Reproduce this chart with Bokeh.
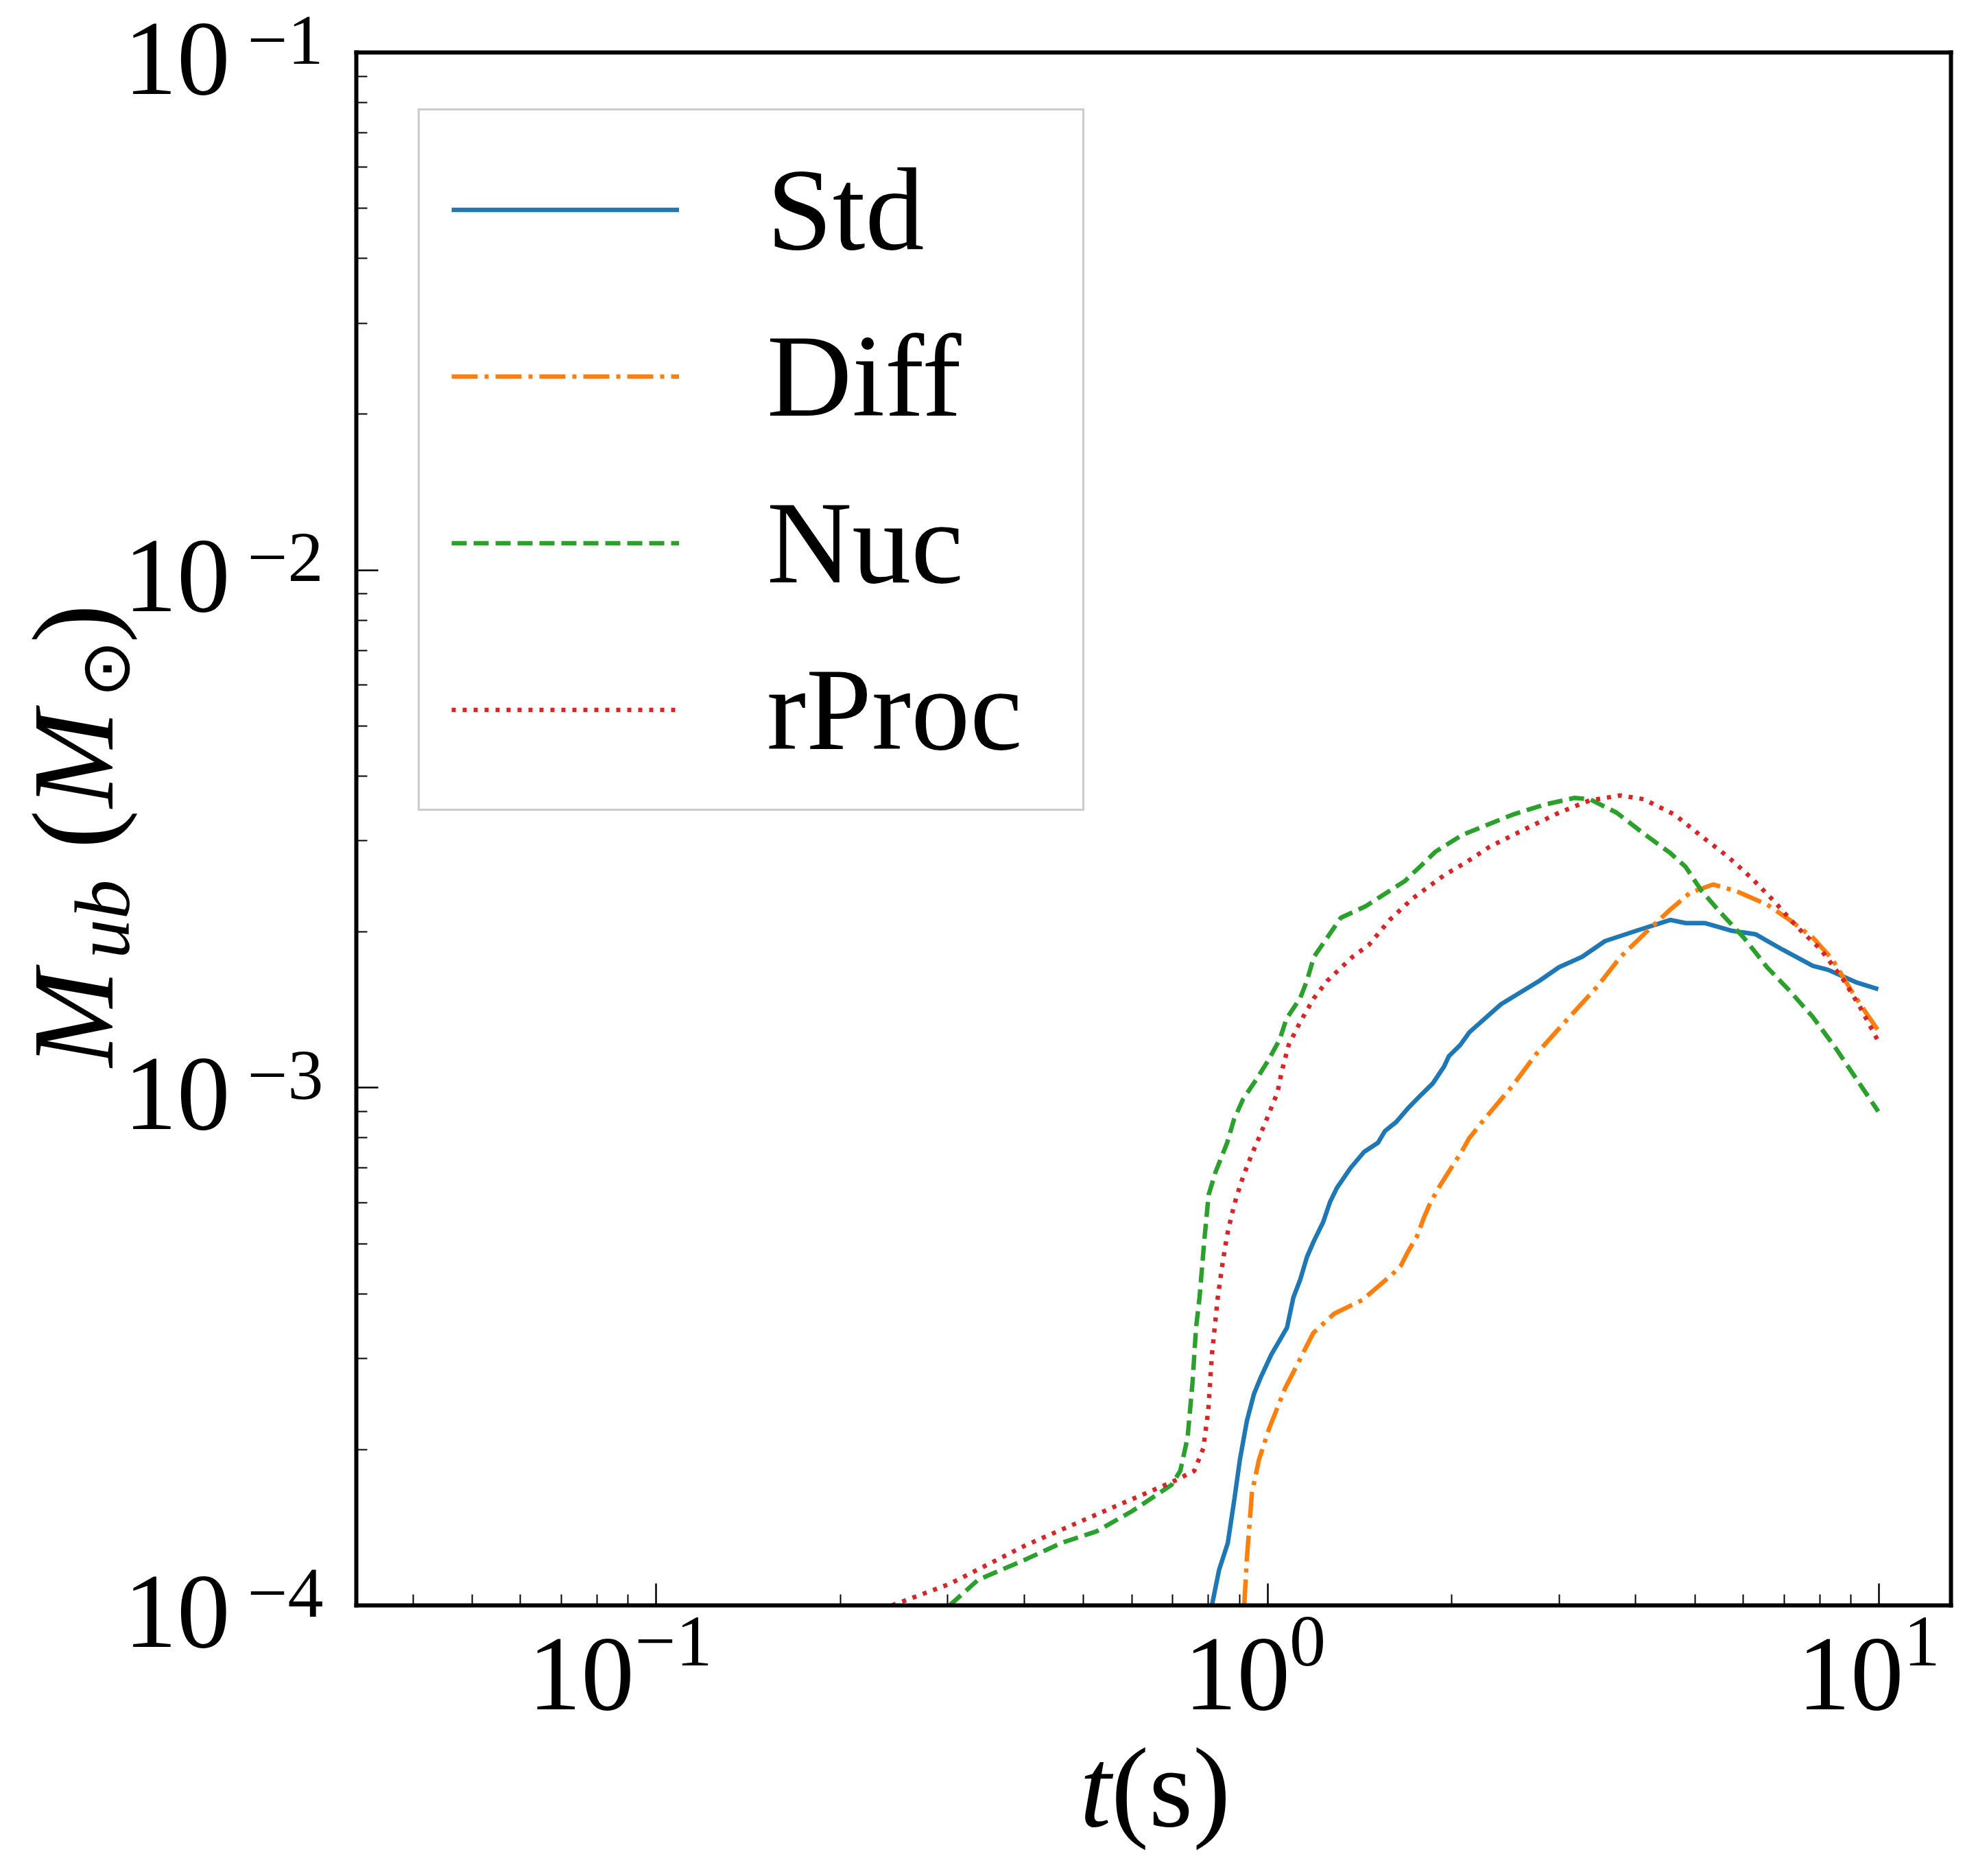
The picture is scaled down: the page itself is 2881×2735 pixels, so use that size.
import numpy as np
from bokeh.plotting import figure
from bokeh.models import (Range1d, Legend, LegendItem, Label, CustomJSTickFormatter,
                          FixedTicker, LogAxis, LogScale)
from bokeh.embed import file_html
from bokeh.resources import INLINE

# ---------------- data ----------------
series_names = ["Std", "Diff", "Nuc", "rProc"]

std_t = [0.811, 0.833, 0.861, 0.883, 0.901, 0.925, 0.950, 0.975, 1.014, 1.076,
         1.102, 1.131, 1.160, 1.191, 1.233, 1.265, 1.298, 1.367, 1.439, 1.516,
         1.555, 1.624, 1.696, 1.785, 1.864, 1.945, 1.979, 2.067, 2.139, 2.410,
         2.786, 2.999, 3.269, 3.565, 4.009, 4.560, 4.831, 5.200, 5.754, 6.281,
         6.950, 7.798, 8.260, 9.162, 9.977]
std_m = [1.00e-4, 1.17e-4, 1.32e-4, 1.61e-4, 1.91e-4, 2.27e-4, 2.56e-4, 2.76e-4, 3.05e-4, 3.44e-4,
         3.93e-4, 4.26e-4, 4.71e-4, 5.06e-4, 5.50e-4, 6.01e-4, 6.40e-4, 7.00e-4, 7.52e-4, 7.83e-4,
         8.24e-4, 8.59e-4, 9.12e-4, 9.70e-4, 1.02e-3, 1.10e-3, 1.15e-3, 1.21e-3, 1.28e-3, 1.45e-3,
         1.61e-3, 1.71e-3, 1.79e-3, 1.92e-3, 2.01e-3, 2.11e-3, 2.08e-3, 2.08e-3, 2.01e-3, 1.98e-3,
         1.85e-3, 1.72e-3, 1.69e-3, 1.60e-3, 1.55e-3]

diff_t = [0.916, 0.925, 0.943, 0.968, 1.008, 1.069, 1.127, 1.188, 1.285, 1.429,
          1.516, 1.596, 1.652, 1.695, 1.755, 1.801, 1.848, 1.913, 1.997, 2.067,
          2.139, 2.244, 2.518, 2.748, 3.083, 3.465, 3.780, 4.183, 4.560, 4.909,
          5.353, 5.834, 6.561, 7.145, 7.798, 8.395, 9.016, 9.550, 9.977]
diff_m = [1.00e-4, 1.23e-4, 1.65e-4, 1.91e-4, 2.21e-4, 2.63e-4, 2.97e-4, 3.36e-4, 3.66e-4, 3.89e-4,
          4.13e-4, 4.35e-4, 4.53e-4, 4.81e-4, 5.16e-4, 5.60e-4, 6.01e-4, 6.46e-4, 7.00e-4, 7.45e-4,
          8.00e-4, 8.59e-4, 1.01e-3, 1.16e-3, 1.35e-3, 1.57e-3, 1.79e-3, 2.01e-3, 2.21e-3, 2.38e-3,
          2.47e-3, 2.40e-3, 2.26e-3, 2.11e-3, 1.95e-3, 1.77e-3, 1.54e-3, 1.39e-3, 1.29e-3]

nuc_t = [0.302, 0.336, 0.404, 0.460, 0.525, 0.600, 0.697, 0.720, 0.740, 0.754,
         0.764, 0.774, 0.788, 0.801, 0.822, 0.859, 0.881, 0.912, 0.960, 1.003,
         1.047, 1.074, 1.131, 1.160, 1.191, 1.318, 1.445, 1.679, 1.884, 2.084,
         2.518, 2.829, 3.177, 3.365, 3.724, 4.121, 4.560, 4.831, 5.129, 5.508,
         6.012, 6.561, 7.145, 7.798, 8.511, 9.290, 9.977]
nuc_m = [1.00e-4, 1.12e-4, 1.23e-4, 1.32e-4, 1.39e-4, 1.52e-4, 1.71e-4, 1.82e-4, 2.11e-4, 2.70e-4,
         3.44e-4, 3.93e-4, 5.06e-4, 6.21e-4, 6.87e-4, 7.83e-4, 8.67e-4, 9.51e-4, 1.04e-3, 1.13e-3,
         1.24e-3, 1.36e-3, 1.49e-3, 1.61e-3, 1.79e-3, 2.13e-3, 2.24e-3, 2.51e-3, 2.86e-3, 3.08e-3,
         3.37e-3, 3.52e-3, 3.63e-3, 3.61e-3, 3.40e-3, 3.10e-3, 2.84e-3, 2.67e-3, 2.40e-3, 2.18e-3,
         1.95e-3, 1.71e-3, 1.54e-3, 1.37e-3, 1.19e-3, 1.02e-3, 9.0e-4]

rproc_t = [0.243, 0.302, 0.404, 0.561, 0.697, 0.759, 0.785, 0.800, 0.811, 0.829,
           0.844, 0.858, 0.873, 0.889, 0.912, 0.940, 0.968, 1.003, 1.038, 1.056,
           1.083, 1.131, 1.191, 1.253, 1.377, 1.466, 1.584, 1.726, 1.941, 2.116,
           2.307, 2.667, 2.999, 3.365, 3.776, 4.121, 4.634, 5.129, 5.675, 6.194,
           6.745, 7.362, 8.035, 8.770, 9.290, 9.977]
rproc_m = [1.00e-4, 1.10e-4, 1.31e-4, 1.55e-4, 1.73e-4, 1.82e-4, 2.01e-4, 2.38e-4, 3.05e-4, 3.93e-4,
           4.57e-4, 5.16e-4, 5.66e-4, 6.14e-4, 6.73e-4, 7.38e-4, 8.00e-4, 8.85e-4, 9.79e-4, 1.08e-3,
           1.21e-3, 1.34e-3, 1.49e-3, 1.61e-3, 1.79e-3, 1.89e-3, 2.11e-3, 2.32e-3, 2.57e-3, 2.73e-3,
           2.92e-3, 3.18e-3, 3.40e-3, 3.59e-3, 3.67e-3, 3.61e-3, 3.37e-3, 3.06e-3, 2.79e-3, 2.54e-3,
           2.29e-3, 2.04e-3, 1.85e-3, 1.61e-3, 1.44e-3, 1.23e-3]

x_major_ticks = [0.1, 1.0, 10.0]
x_minor_ticks = [0.04, 0.05, 0.06, 0.07, 0.08, 0.09,
                 0.2, 0.3, 0.4, 0.5, 0.6, 0.7, 0.8, 0.9,
                 2, 3, 4, 5, 6, 7, 8, 9]
y_major_ticks = [1e-4, 1e-3, 1e-2, 1e-1]
y_minor_ticks = [2e-4, 3e-4, 4e-4, 5e-4, 6e-4, 7e-4, 8e-4, 9e-4,
                 2e-3, 3e-3, 4e-3, 5e-3, 6e-3, 7e-3, 8e-3, 9e-3,
                 2e-2, 3e-2, 4e-2, 5e-2, 6e-2, 7e-2, 8e-2, 9e-2]

x_label_italic = "t"
x_label_rest = "(s)"

# ---------------- layout / styling ----------------
SERIF = "Liberation Serif"
colors = ["#1f77b4", "#ff7f0e", "#2ca02c", "#d62728"]
dashes = ["solid", "38 10 6 10", "22 10", "6 10"]

X0, X1 = 0.03232, 13.12          # visible plot box, x
Y0, Y1 = 1e-4, 1e-1              # visible plot box, y
W, H = 2864, 2718                # canvas
ML, MR, MT, MB = 519, 20, 76, 378  # margins around the plot box

kx = (W - ML - MR) / (np.log10(X1) - np.log10(X0))
ky = (H - MT - MB) / (np.log10(Y1) - np.log10(Y0))
xr = Range1d(10 ** (np.log10(X0) - ML / kx), 10 ** (np.log10(X1) + MR / kx))
yr = Range1d(10 ** (np.log10(Y0) - MB / ky), 10 ** (np.log10(Y1) + MT / ky))

p = figure(width=W, height=H, x_range=xr, y_range=yr,
           x_axis_location=None, y_axis_location=None,
           output_backend="svg", toolbar_location=None,
           min_border_left=0, min_border_right=0, min_border_top=0, min_border_bottom=0)
p.x_scale = LogScale()
p.y_scale = LogScale()
p.background_fill_color = "white"
p.border_fill_color = "white"
p.outline_line_color = None
p.xgrid.visible = False
p.ygrid.visible = False


def make_axis(ticks, minor, fixed, bounds, with_ticks):
    ax = LogAxis(fixed_location=fixed, bounds=bounds,
                 ticker=FixedTicker(ticks=ticks, minor_ticks=minor),
                 formatter=CustomJSTickFormatter(code="return ''"),
                 axis_line_width=6, axis_line_color="black", axis_line_cap="square",
                 major_tick_in=32 if with_ticks else 0, major_tick_out=0,
                 minor_tick_in=16 if with_ticks else 0, minor_tick_out=0,
                 major_tick_line_width=2.5, minor_tick_line_width=2,
                 major_tick_line_color="black" if with_ticks else None,
                 minor_tick_line_color="black" if with_ticks else None,
                 major_label_standoff=0)
    return ax


p.add_layout(make_axis(x_major_ticks, x_minor_ticks, Y0, (X0, X1), True), "below")
p.add_layout(make_axis(y_major_ticks, y_minor_ticks, X0, (Y0, Y1), True), "left")
p.add_layout(make_axis([], [], Y1, (X0, X1), False), "above")
p.add_layout(make_axis([], [], X1, (Y0, Y1), False), "right")

series = [(std_t, std_m), (diff_t, diff_m), (nuc_t, nuc_m), (rproc_t, rproc_m)]
renderers = []
for (t, m), c, d in zip(series, colors, dashes):
    r = p.line(t, m, line_color=c, line_width=6.5, line_dash=d)
    renderers.append(r)

legend = Legend(items=[LegendItem(label=n, renderers=[r]) for n, r in zip(series_names, renderers)],
                location=(609, 1536), padding=46, spacing=46,
                glyph_width=332, glyph_height=171, label_height=171, label_width=414,
                label_standoff=128, label_text_font=SERIF, label_text_font_size="172px",
                label_text_color="black",
                border_line_color="#cccccc", border_line_width=3.5, border_line_alpha=1.0,
                background_fill_color="white", background_fill_alpha=0.8)
p.add_layout(legend)


def sup_text(v):
    e = int(round(np.log10(v)))
    return ("\u2212" + str(-e)) if e < 0 else str(e)


# x tick labels: "10" + superscript exponent
x_off = {-1: (-32, -31), 0: (33, 32), 1: (36, 36)}
for v in x_major_ticks:
    e = int(round(np.log10(v)))
    dx10, dxs = x_off[e]
    p.add_layout(Label(x=v, y=Y0, text="10", text_align="right", text_baseline="alphabetic",
                       x_offset=dx10, y_offset=-100, text_font=SERIF, text_font_size="155px",
                       text_color="black"))
    p.add_layout(Label(x=v, y=Y0, text=sup_text(v), text_align="left", text_baseline="alphabetic",
                       x_offset=dxs, y_offset=-52, text_font=SERIF, text_font_size="106px",
                       text_color="black"))

# y tick labels
for v in y_major_ticks:
    p.add_layout(Label(x=X0, y=v, text="10", text_align="right", text_baseline="alphabetic",
                       x_offset=-184, y_offset=-9, text_font=SERIF, text_font_size="155px",
                       text_color="black"))
    p.add_layout(Label(x=X0, y=v, text=sup_text(v), text_align="right", text_baseline="alphabetic",
                       x_offset=-48, y_offset=18, text_font=SERIF, text_font_size="104px",
                       text_color="black"))

# x axis label  t(s)
p.add_layout(Label(x=1.0, y=Y0, text=x_label_italic, text_align="right", text_baseline="alphabetic",
                   x_offset=-228, y_offset=-266, text_font=SERIF, text_font_size="165px",
                   text_font_style="italic", text_color="black"))
p.add_layout(Label(x=1.0, y=Y0, text=x_label_rest, text_align="left", text_baseline="alphabetic",
                   x_offset=-228, y_offset=-266, text_font=SERIF, text_font_size="165px",
                   text_color="black"))

# y axis label  M_ub (M_sun), rotated
ylab_parts = [
    ("M", "italic", "170px", -413, 785),
    ("ub", "italic", "115px", -370, 943),
    ("(", "normal", "170px", -413, 1103),
    ("M", "italic", "170px", -413, 1163),
    ("\u2299", "normal", "100px", -365, 1324),
    (")", "normal", "170px", -413, 1403),
]
for txt, style, size, dx, dy in ylab_parts:
    p.add_layout(Label(x=X0, y=Y0, text=txt, angle=np.pi / 2, text_align="left",
                       text_baseline="alphabetic", x_offset=dx, y_offset=dy,
                       text_font=SERIF, text_font_size=size, text_font_style=style,
                       text_color="black"))

open("out.html", "w").write(file_html(p, INLINE))
